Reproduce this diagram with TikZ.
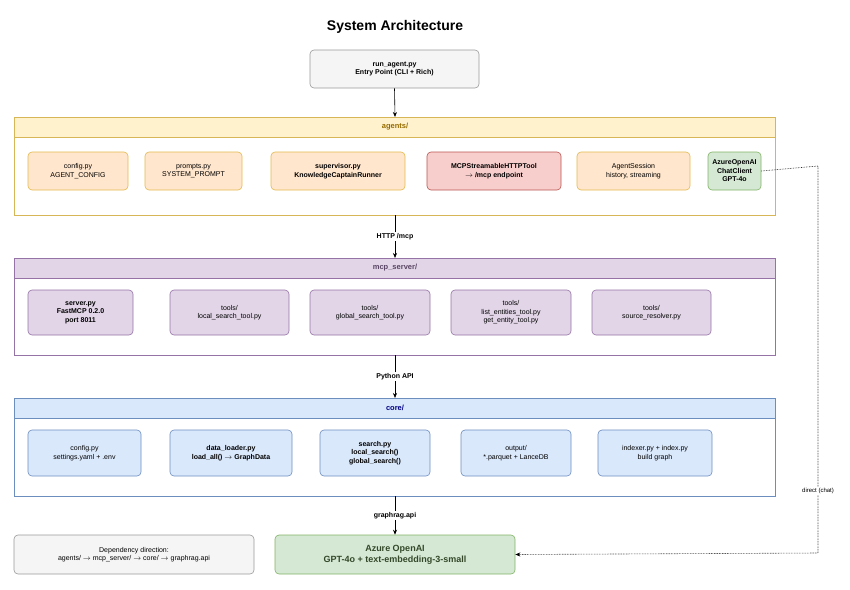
\documentclass[tikz,border=0pt]{standalone}
\usepackage{fontspec}
\setmainfont{Liberation Sans}
\usetikzlibrary{arrows.meta}
\definecolor{ylwfill}{HTML}{FFF2CC}\definecolor{ylwline}{HTML}{D6B656}
\definecolor{orgfill}{HTML}{FFE6CC}\definecolor{orgline}{HTML}{D79B00}
\definecolor{redfill}{HTML}{F8CECC}\definecolor{redline}{HTML}{B85450}
\definecolor{grnfill}{HTML}{D5E8D4}\definecolor{grnline}{HTML}{82B366}
\definecolor{purfill}{HTML}{E1D5E7}\definecolor{purline}{HTML}{9673A6}
\definecolor{blufill}{HTML}{DAE8FC}\definecolor{bluline}{HTML}{6C8EBF}
\definecolor{gryfill}{HTML}{F5F5F5}\definecolor{gryline}{HTML}{999999}
\tikzset{
  txt/.style={font=\fontsize{7}{8.5}\selectfont, align=center},
  bld/.style={font=\bfseries\fontsize{7}{8.5}\selectfont},
  modbox/.style={txt, draw, rounded corners=4pt, line width=0.6pt},
  layerbox/.style={draw, line width=0.6pt},
  hdr/.style={txt, font=\bfseries\fontsize{7.5}{9}\selectfont},
  flow/.style={-{Stealth[length=5pt,width=4pt]}, line width=0.6pt},
  lbl/.style={txt, fill=white, inner sep=1.5pt}
}
\newcommand{\modnode}[6]{% name, x1, x2, y1, y2, style
  \node[modbox, #6, minimum width=#3-#2, minimum height=#5-#4] (#1) at ({(#2+#3)/2},{(#4+#5)/2})}
\begin{document}
\begin{tikzpicture}[x=1pt,y=-1pt]
\useasboundingbox (0,0) rectangle (850,589);
% Title
\node[font=\bfseries\fontsize{14}{16}\selectfont] (title) at (395,27) {System Architecture};

% Entry point
\modnode{entry}{310}{479}{50}{88}{fill=gryfill, draw=gryline, bld}{run\_agent.py\\Entry Point (CLI + Rich)};

% agents layer
\draw[layerbox, draw=ylwline] (14,117) rectangle (775,215);
\draw[layerbox, draw=ylwline, fill=ylwfill] (14,117) rectangle (775,137);
\node[hdr, text=orgline!70!black] (agents) at (395,127) {agents/};
\coordinate (agtop) at (395,117);
\coordinate (agbot) at (395,215);
\modnode{acfg}{28}{128}{152}{190}{fill=orgfill, draw=orgline!70}{config.py\\AGENT\_CONFIG};
\modnode{aprm}{145}{242}{152}{190}{fill=orgfill, draw=orgline!70}{prompts.py\\SYSTEM\_PROMPT};
\modnode{asup}{271}{405}{152}{190}{fill=orgfill, draw=orgline!70, bld}{supervisor.py\\KnowledgeCaptainRunner};
\modnode{amcp}{427}{561}{152}{190}{fill=redfill, draw=redline, bld}{MCPStreamableHTTPTool\\$\rightarrow$ /mcp endpoint};
\modnode{asess}{577}{690}{152}{190}{fill=orgfill, draw=orgline!70}{AgentSession\\history, streaming};
\modnode{aaz}{708}{761}{152}{190}{fill=grnfill, draw=grnline, bld}{AzureOpenAI\\ChatClient\\GPT-4o};

% mcp_server layer
\draw[layerbox, draw=purline] (14,258) rectangle (775,355);
\draw[layerbox, draw=purline, fill=purfill] (14,258) rectangle (775,278);
\node[hdr, text=purline!60!black] (mcp) at (395,268) {mcp\_server/};
\coordinate (mctop) at (395,258);
\coordinate (mcbot) at (395,355);
\modnode{msrv}{28}{133}{290}{335}{fill=purfill, draw=purline, bld}{server.py\\FastMCP 0.2.0\\port 8011};
\modnode{mloc}{170}{289}{290}{335}{fill=purfill, draw=purline}{tools/\\local\_search\_tool.py};
\modnode{mglo}{310}{430}{290}{335}{fill=purfill, draw=purline}{tools/\\global\_search\_tool.py};
\modnode{ment}{451}{571}{290}{335}{fill=purfill, draw=purline}{tools/\\list\_entities\_tool.py\\get\_entity\_tool.py};
\modnode{mres}{592}{711}{290}{335}{fill=purfill, draw=purline}{tools/\\source\_resolver.py};

% core layer
\draw[layerbox, draw=bluline] (14,398) rectangle (775,496);
\draw[layerbox, draw=bluline, fill=blufill] (14,398) rectangle (775,418);
\node[hdr, text=blue!50!black] (core) at (395,408) {core/};
\coordinate (cotop) at (395,398);
\coordinate (cobot) at (395,496);
\modnode{ccfg}{28}{141}{430}{476}{fill=blufill, draw=bluline}{config.py\\settings.yaml + .env};
\modnode{cdat}{170}{292}{430}{476}{fill=blufill, draw=bluline, bld}{data\_loader.py\\load\_all() $\rightarrow$ GraphData};
\modnode{csea}{320}{430}{430}{476}{fill=blufill, draw=bluline, bld}{search.py\\local\_search()\\global\_search()};
\modnode{cout}{461}{571}{430}{476}{fill=blufill, draw=bluline}{output/\\*.parquet + LanceDB};
\modnode{cidx}{598}{712}{430}{476}{fill=blufill, draw=bluline}{indexer.py + index.py\\build graph};

% bottom row
\modnode{dep}{14}{254}{535}{574}{fill=gryfill, draw=gryline}{Dependency direction:\\agents/ $\rightarrow$ mcp\_server/ $\rightarrow$ core/ $\rightarrow$ graphrag.api};
\modnode{azure}{275}{515}{535}{574}{fill=grnfill, draw=grnline, font=\bfseries\fontsize{9}{11}\selectfont, text=grnline!40!black}{Azure OpenAI\\GPT-4o + text-embedding-3-small};

% connectors
\draw[flow] (entry.south) -- (agtop);
\draw[flow] (agbot) -- node[lbl] {\bfseries HTTP /mcp} (mctop);
\draw[flow] (mcbot) -- node[lbl] {\bfseries Python API} (cotop);
\draw[flow] (cobot) -- node[lbl] {\bfseries graphrag.api} (azure.north -| cobot);
\coordinate (dtop) at (818,166);
\coordinate (dbot) at (818,553);
\draw[flow, densely dotted] (aaz.east) -- (dtop) -- node[lbl, pos=0.84, font=\fontsize{6}{7}\selectfont] {direct (chat)} (dbot) -- (azure.east);
\end{tikzpicture}
\end{document}
